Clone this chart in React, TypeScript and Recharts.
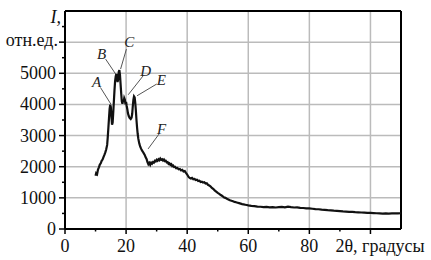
import React from 'react';
import { LineChart, Line, XAxis, YAxis, ReferenceLine, ReferenceDot } from 'recharts';

const twoTheta = [
  10.0, 10.2, 10.5, 10.8, 11.1, 11.4, 11.7, 12.0, 12.3, 12.6, 12.9, 13.2, 13.5, 13.8, 14.0, 14.2, 14.4, 14.6, 14.8, 15.0,
  15.2, 15.4, 15.6, 15.8, 16.0, 16.2, 16.4, 16.6, 16.8, 17.0, 17.2, 17.4, 17.6, 17.8, 18.0, 18.2, 18.4, 18.6, 18.8, 19.0,
  19.2, 19.4, 19.6, 19.8, 20.0, 20.2, 20.4, 20.6, 20.9, 21.2, 21.5, 21.8, 22.0, 22.2, 22.4, 22.6, 22.8, 23.0, 23.2, 23.4,
  23.6, 23.8, 24.0, 24.3, 24.6, 24.9, 25.2, 25.5, 25.8, 26.1, 26.4, 26.7, 27.0, 27.3, 27.6, 27.9, 28.2, 28.5, 28.8, 29.1,
  29.4, 29.7, 30.0, 30.3, 30.6, 30.9, 31.2, 31.5, 31.8, 32.1, 32.4, 32.7, 33.0, 33.3, 33.6, 33.9, 34.2, 34.5, 34.8, 35.1,
  35.4, 35.7, 36.0, 36.4, 36.8, 37.2, 37.6, 38.0, 38.4, 38.8, 39.2, 39.6, 40.0, 40.4, 40.8, 41.2, 41.6, 42.0, 42.4, 42.8,
  43.2, 43.6, 44.0, 44.4, 44.8, 45.2, 45.6, 46.0, 46.4, 46.8, 47.2, 47.6, 48.0, 48.5, 49.0, 49.5, 50.0, 50.5, 51.0, 51.5,
  52.0, 52.5, 53.0, 53.5, 54.0, 54.5, 55.0, 55.5, 56.0, 56.5, 57.0, 57.5, 58.0, 58.5, 59.0, 59.5, 60, 61, 62, 63,
  64, 65, 66, 67, 68, 69, 70, 71, 72, 73, 74, 75, 76, 77, 78, 79, 80, 81, 82, 83,
  84, 85, 86, 87, 88, 89, 90, 91, 92, 93, 94, 95, 96, 97, 98, 99, 100, 101, 102, 103,
  104, 105, 106, 107, 108, 109, 110,
];

const intensity = [
  1710, 1790, 1760, 1910, 1980, 2070, 2110, 2190, 2230, 2310, 2380, 2460, 2560, 2700, 2950, 3250, 3550, 3850, 3990, 3920,
  3600, 3350, 3420, 3750, 4100, 4450, 4750, 4900, 4980, 4870, 4720, 4800, 5050, 5100, 4950, 4650, 4350, 4100, 4020, 4150,
  4080, 4200, 4150, 4000, 4080, 3950, 3850, 3720, 3620, 3560, 3530, 3580, 3700, 3950, 4150, 4260, 4230, 4050, 3800, 3500,
  3250, 3050, 2900, 2750, 2650, 2580, 2520, 2480, 2430, 2380, 2300, 2250, 2150, 2080, 2120, 2060, 2130, 2100, 2150, 2130,
  2190, 2170, 2220, 2190, 2240, 2210, 2260, 2220, 2240, 2200, 2230, 2180, 2190, 2140, 2150, 2090, 2110, 2060, 2080, 2020,
  2040, 1990, 2000, 1950, 1960, 1920, 1930, 1880, 1900, 1850, 1860, 1800, 1750, 1680, 1640, 1620, 1640, 1600, 1610, 1570,
  1580, 1540, 1550, 1510, 1520, 1490, 1500, 1460, 1470, 1420, 1400, 1370, 1330, 1290, 1240, 1200, 1160, 1130, 1090, 1060,
  1020, 1000, 970, 950, 925, 905, 890, 870, 860, 845, 830, 815, 800, 790, 780, 770, 760, 745, 735, 720,
  715, 705, 710, 695, 705, 690, 700, 710, 695, 715, 700, 690, 695, 680, 675, 665, 660, 650, 640, 635,
  620, 615, 605, 600, 590, 585, 575, 565, 560, 550, 548, 540, 535, 530, 525, 520, 515, 510, 505, 500,
  495, 500, 495, 500, 505, 500, 505,
];

const xTicks = [0, 10, 20, 30, 40, 50, 60, 70, 80, 90, 100];
const xMajor = [0, 20, 40, 60, 80, 100];
const xLabelValues = [0, 20, 40, 60, 80, 100];
const xLabelTexts = ['0', '20', '40', '60', '80', '2θ, градусы'];
const yTicks = [0, 500, 1000, 1500, 2000, 2500, 3000, 3500, 4000, 4500, 5000, 5500, 6000, 6500, 7000];
const yLabelValues = [0, 1000, 2000, 3000, 4000, 5000, 6000, 7000];
const yLabelTexts = ['0', '1000', '2000', '3000', '4000', '5000', 'отн.ед.', 'I,'];
const gridX = [20, 40, 60, 80, 100];
const gridY = [1000, 2000, 3000, 4000, 5000, 6000];

const peakNames = ['A', 'B', 'C', 'D', 'E', 'F'];
const peakLabelX = [10.3, 12.0, 21.0, 26.4, 31.5, 31.6];
const peakLabelY = [4705, 5615, 6019, 5080, 4792, 3212];
const leaderFrom = [[11.6, 4545], [13.3, 5455], [20.1, 5776], [25.6, 4920], [30.0, 4654], [30.8, 3051]];
const leaderTo = [[15.0, 4013], [16.6, 4974], [18.2, 5135], [20.7, 4311], [23.6, 4279], [27.2, 2571]];

const data = twoTheta.map((x, i) => ({ x, i: intensity[i] }));

const FONT = 'Liberation Serif';

function XTick(props: any) {
  const { x, y, payload } = props;
  const v = payload.value as number;
  const major = xMajor.includes(v);
  const k = xLabelValues.indexOf(v);
  return (
    <g>
      <line x1={x} x2={x} y1={y} y2={y + (major ? 5 : 2.5)} stroke="#000" strokeWidth={1.5} />
      {k >= 0 && (
        <text
          x={v === 100 ? x - 35 : x}
          y={y + 23}
          textAnchor={v === 100 ? 'start' : 'middle'}
          fontFamily={FONT}
          fontSize={18}
          fill="#111"
        >
          {xLabelTexts[k]}
        </text>
      )}
    </g>
  );
}

function YTick(props: any) {
  const { x, y, payload } = props;
  const v = payload.value as number;
  const major = v % 1000 === 0;
  const k = yLabelValues.indexOf(v);
  const tx = v === 7000 ? x - 4 : v === 6000 ? x - 7 : x - 9;
  const ty = v === 7000 ? y + 12 : v === 6000 ? y + 4 : y + 6;
  return (
    <g>
      {v !== 7000 && <line x1={x} x2={x - (major ? 6 : 3)} y1={y} y2={y} stroke="#000" strokeWidth={1.5} />}
      {k >= 0 && (
        <text
          x={tx}
          y={ty}
          textAnchor="end"
          fontFamily={FONT}
          fontSize={18}
          fontStyle={v === 7000 ? 'italic' : 'normal'}
          fill="#111"
        >
          {yLabelTexts[k]}
        </text>
      )}
    </g>
  );
}

export default function App() {
  return (
    <div style={{ position: 'absolute', left: 0, top: 0, background: '#fff' }}>
      <LineChart width={431} height={260} data={data} margin={{ top: 11, right: 30, left: 0, bottom: 0 }}>
        <XAxis
          dataKey="x"
          type="number"
          domain={[0, 110]}
          ticks={xTicks}
          interval={0}
          tickSize={0}
          tickMargin={0}
          tick={(p: any) => <XTick {...p} />}
          height={31}
          axisLine={{ stroke: '#000', strokeWidth: 2 }}
          tickLine={false}
        />
        <YAxis
          type="number"
          domain={[0, 7000]}
          ticks={yTicks}
          interval={0}
          tickSize={0}
          tickMargin={0}
          tick={(p: any) => <YTick {...p} />}
          width={65}
          axisLine={{ stroke: '#000', strokeWidth: 2 }}
          tickLine={false}
        />
        {gridY.map((v) => (
          <ReferenceLine key={'gy' + v} y={v} stroke="#bbbbbb" strokeWidth={1.5} />
        ))}
        {gridX.map((v) => (
          <ReferenceLine key={'gx' + v} x={v} stroke="#bbbbbb" strokeWidth={1.5} />
        ))}
        <ReferenceLine y={7000} stroke="#000" strokeWidth={2} />
        <ReferenceLine x={110} stroke="#000" strokeWidth={2} />
        {peakNames.map((n, k) => (
          <ReferenceLine
            key={'l' + n}
            segment={[
              { x: leaderFrom[k][0], y: leaderFrom[k][1] },
              { x: leaderTo[k][0], y: leaderTo[k][1] },
            ]}
            stroke="#555"
            strokeWidth={1}
          />
        ))}
        <Line type="linear" dataKey="i" stroke="#111" strokeWidth={2.2} dot={false} isAnimationActive={false} />
        {peakNames.map((n, k) => (
          <ReferenceDot
            key={'t' + n}
            x={peakLabelX[k]}
            y={peakLabelY[k]}
            r={0}
            ifOverflow="visible"
            shape={(p: any) => (
              <text
                x={p.cx}
                y={p.cy}
                textAnchor="middle"
                dominantBaseline="central"
                fontFamily={FONT}
                fontSize={15}
                fontStyle="italic"
                fill="#222"
              >
                {n}
              </text>
            )}
          />
        ))}
      </LineChart>
    </div>
  );
}
